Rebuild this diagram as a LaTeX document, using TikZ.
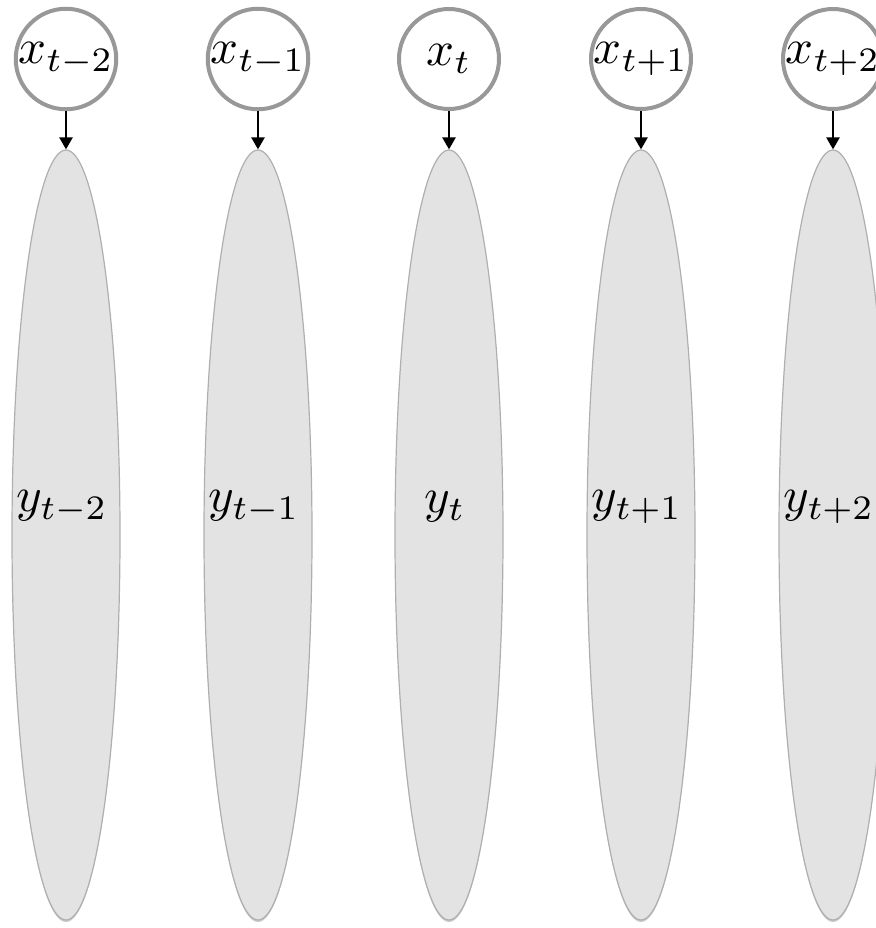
\documentclass[tikz,border=0pt]{standalone}
\usetikzlibrary{arrows.meta,shapes.geometric,shadows}
\definecolor{ringgray}{RGB}{152,152,152}
\definecolor{ellfill}{RGB}{227,227,227}
\definecolor{ellline}{RGB}{175,175,175}
\newcommand{\mybigmath}[1]{\scalebox{2.45}{$#1$}}
\begin{document}
\begin{tikzpicture}[x=0.5pt,y=-0.5pt,
  obs/.style={circle,draw=ringgray,line width=2pt,fill=white,minimum size=50pt,inner sep=0pt},
  lat/.style={ellipse,draw=ellline,line width=0.6pt,fill=ellfill,minimum width=54pt,minimum height=385pt,inner sep=0pt,
    drop shadow={shadow xshift=0pt,shadow yshift=-1pt,opacity=0.35,fill=black!60}},
  lbl/.style={inner sep=0pt},
  arr/.style={line width=1.2pt,-{Triangle[length=6pt,width=6.5pt]}}]
\useasboundingbox (0,0) rectangle (876,928);
\clip (0,0) rectangle (876,928);
\foreach \i/\xx/\sub in {1/66/{t-2},2/258/{t-1},3/449/{t},4/641/{t+1},5/833/{t+2}}{
  \node[lat] (e\i) at (\xx,535) {};
  \node[lbl] (l\i) at (\xx-4,507) {\mybigmath{y_{\sub}}};
  \node[obs] (c\i) at (\xx,59) {\mybigmath{x_{\sub}}};
  \draw[arr] (c\i) -- (e\i);
}
\end{tikzpicture}
\end{document}
